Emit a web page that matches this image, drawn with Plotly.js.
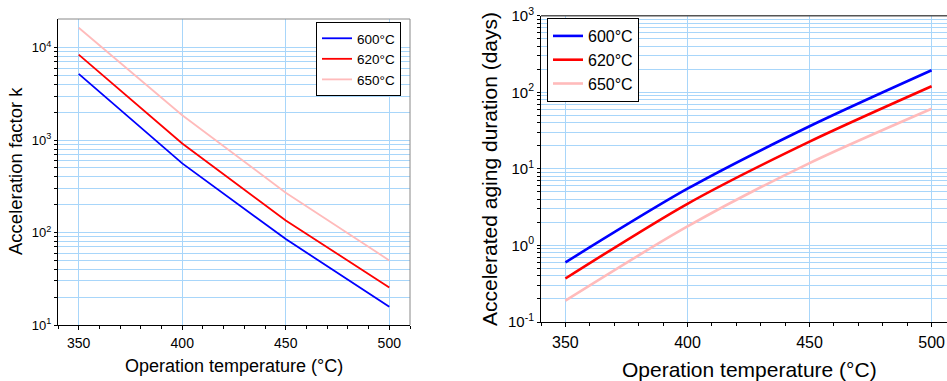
<!DOCTYPE html>
<html>
<head>
<meta charset="utf-8">
<script src="https://cdn.plot.ly/plotly-3.0.1.min.js"></script>
<style>html,body{margin:0;padding:0;overflow:hidden;background:#fff}#chart{width:947px;height:381px}</style>
</head>
<body>
<div id="chart"></div>
<script>
// ---- data ----
const temps = [350, 400, 450, 500];
const seriesNames = ['600°C', '620°C', '650°C'];
const seriesColors = ['#0000FF', '#FF0000', '#FFBBBB'];
// Acceleration factor k (left panel)
const k600 = [5200, 560, 85, 15.8];
const k620 = [8400, 920, 135, 25.5];
const k650 = [16400, 1860, 270, 50];
// Accelerated aging duration in days (right panel)
const d600 = [0.60, 5.5, 36, 194];
const d620 = [0.37, 3.5, 22.7, 120];
const d650 = [0.19, 1.77, 11.9, 61];
const xTickVals = [350, 400, 450, 500];
const leftYTitle = 'Acceleration factor k';
const rightYTitle = 'Accelerated aging duration (days)';
const xTitle = 'Operation temperature (°C)';

function logTicks(minExp, maxExp) {
  const vals = [], text = [];
  for (let e = minExp; e <= maxExp; e++) {
    for (let m = 1; m <= 9; m++) {
      if (e === maxExp && m > 1) break;
      vals.push(m * Math.pow(10, e));
      text.push(m === 1 ? '10<sup>' + e + '</sup>' : '');
    }
  }
  return {vals, text};
}
const lt = logTicks(1, 4);
const rt = logTicks(-1, 3);

const W = 947, H = 381;
const px = v => v / W, py = v => (H - v) / H;

const leftK = [k600, k620, k650];
const rightD = [d600, d620, d650];
const traces = [];
leftK.forEach((ys, i) => traces.push({
  x: temps, y: ys, type: 'scatter', mode: 'lines', name: seriesNames[i],
  line: {color: seriesColors[i], width: 1.8}, xaxis: 'x', yaxis: 'y', legend: 'legend'
}));
rightD.forEach((ys, i) => traces.push({
  x: temps, y: ys, type: 'scatter', mode: 'lines', name: seriesNames[i],
  line: {color: seriesColors[i], width: 2.6, shape: 'spline', smoothing: 0.8},
  xaxis: 'x2', yaxis: 'y2', legend: 'legend2'
}));

const grid = '#A8D6FA';
const font = 'Arial, "Liberation Sans", sans-serif';
const layout = {
  width: W, height: H, margin: {l: 0, r: 0, t: 0, b: 0},
  paper_bgcolor: '#fff', plot_bgcolor: '#fff',
  font: {family: font, color: '#000'},
  showlegend: true,
  xaxis: {
    domain: [px(58), px(410)], range: [340, 510], anchor: 'y',
    tickvals: xTickVals, ticks: 'outside', ticklen: 4, tickcolor: '#000',
    showgrid: true, gridcolor: grid, gridwidth: 1, zeroline: false,
    showline: true, linecolor: '#000', linewidth: 1,
    tickfont: {size: 14}, ticklabelstandoff: 1,
    minor: {dtick: 10, ticks: 'outside', ticklen: 3, tickcolor: '#000', showgrid: false}
  },
  yaxis: {
    domain: [py(325), py(19)], type: 'log', range: [1, 4.31], anchor: 'x',
    tickvals: lt.vals, ticktext: lt.text, ticks: 'outside', ticklen: 3, tickcolor: '#000',
    showgrid: true, gridcolor: grid, gridwidth: 1, zeroline: false,
    showline: true, linecolor: '#000', linewidth: 1,
    tickfont: {size: 13}
  },
  xaxis2: {
    domain: [px(541), 1], range: [340, 506.3], anchor: 'y2',
    tickvals: xTickVals, ticks: 'outside', ticklen: 4, tickcolor: '#000',
    showgrid: true, gridcolor: grid, gridwidth: 1, zeroline: false,
    showline: true, linecolor: '#000', linewidth: 1,
    tickfont: {size: 16}, ticklabelstandoff: 2,
    minor: {dtick: 10, ticks: 'outside', ticklen: 3, tickcolor: '#000', showgrid: false}
  },
  yaxis2: {
    domain: [py(322), py(15.7)], type: 'log', range: [-1, 3], anchor: 'x2',
    tickvals: rt.vals, ticktext: rt.text, ticks: 'outside', ticklen: 3, tickcolor: '#000',
    showgrid: true, gridcolor: grid, gridwidth: 1, zeroline: false,
    showline: true, linecolor: '#000', linewidth: 1,
    tickfont: {size: 15}
  },
  legend: {
    x: px(316), y: py(22), xanchor: 'left', yanchor: 'top',
    bgcolor: '#fff', bordercolor: '#000', borderwidth: 1,
    font: {size: 13.5}, tracegroupgap: 0, itemwidth: 30
  },
  legend2: {
    x: px(547), y: py(18), xanchor: 'left', yanchor: 'top',
    bgcolor: '#fff', bordercolor: '#000', borderwidth: 1,
    font: {size: 16}, tracegroupgap: 0
  },
  shapes: [
    {type: 'line', xref: 'x domain', yref: 'y domain', x0: 0, x1: 1, y0: 1, y1: 1, line: {color: '#888', width: 1}},
    {type: 'line', xref: 'x domain', yref: 'y domain', x0: 1, x1: 1, y0: 0, y1: 1, line: {color: '#888', width: 1}},
    {type: 'line', xref: 'x2 domain', yref: 'y2 domain', x0: 0, x1: 1, y0: 1, y1: 1, line: {color: '#555', width: 1.5}}
  ],
  annotations: [
    {text: xTitle, xref: 'paper', yref: 'paper', x: px(234), y: py(366), showarrow: false, font: {size: 18}, xanchor: 'center', yanchor: 'middle'},
    {text: leftYTitle, xref: 'paper', yref: 'paper', x: px(15), y: py(171), textangle: -90, showarrow: false, font: {size: 18.5}, xanchor: 'center', yanchor: 'middle'},
    {text: xTitle, xref: 'paper', yref: 'paper', x: px(749), y: py(369), showarrow: false, font: {size: 21}, xanchor: 'center', yanchor: 'middle'},
    {text: rightYTitle, xref: 'paper', yref: 'paper', x: px(490), y: py(169), textangle: -90, showarrow: false, font: {size: 21}, xanchor: 'center', yanchor: 'middle'}
  ]
};
Plotly.newPlot('chart', traces, layout, {displayModeBar: false, staticPlot: true});
</script>
</body>
</html>
